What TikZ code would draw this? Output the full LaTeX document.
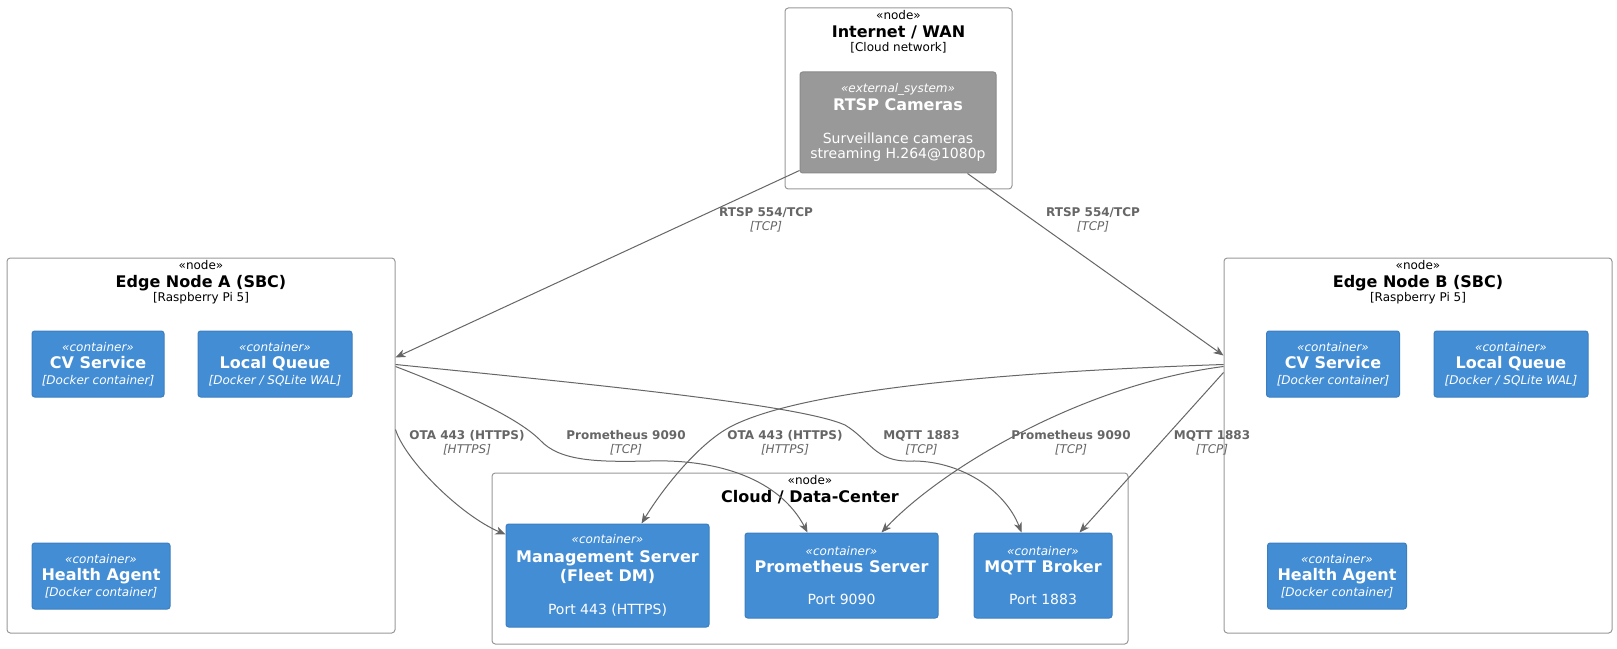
\documentclass[tikz,border=0pt]{standalone}
\usepackage{fontspec}
\setmainfont{DejaVu Sans}
\usetikzlibrary{arrows.meta,calc}

\definecolor{c4blue}{HTML}{438DD5}
\definecolor{c4blueline}{HTML}{3C7FC0}
\definecolor{extgray}{HTML}{999999}
\definecolor{extline}{HTML}{8A8A8A}
\definecolor{nodeline}{HTML}{999999}
\definecolor{relgray}{HTML}{666666}
\newcommand{\px}{0.75pt}

\tikzset{
  depnode/.style={draw=nodeline, line width=0.75pt, rounded corners=2.5pt, inner sep=0pt},
  deptitle/.style={anchor=north, align=center, inner sep=0pt, font=\fontsize{9}{12}\selectfont},
  container/.style={draw=c4blueline, fill=c4blue, line width=0.75pt, rounded corners=2pt,
    text=white, align=center, inner sep=0pt, font=\fontsize{9}{11.7}\selectfont},
  extsystem/.style={container, draw=extline, fill=extgray},
  rel/.style={draw=relgray, line width=0.75pt, -{Stealth[length=7.5pt,width=6pt,inset=2.2pt]}},
  rellabel/.style={text=relgray, align=center, inner sep=0pt, font=\fontsize{9}{10.5}\selectfont},
}

\begin{document}
\begin{tikzpicture}[x=\px, y=-\px]
  % Canvas
    \path[use as bounding box, fill=white] (0,0) rectangle (1617,649);

  % Deployment nodes
    \node[depnode, minimum width=227*\px, minimum height=181*\px] (inet) at (898.5,98.5) {};
    \node[depnode, minimum width=388*\px, minimum height=375*\px] (edgeA) at (201,445.5) {};
    \node[depnode, minimum width=388*\px, minimum height=375*\px] (edgeB) at (1418,445.5) {};
    \node[depnode, minimum width=636*\px, minimum height=171*\px] (cloud) at (810,558.5) {};

    \node[deptitle] (inetTitle) at ($(inet.north)+(0,3)$)
      {«node»\\[1pt]{\bfseries\fontsize{12}{12}\selectfont Internet / WAN}\\[-1pt]{[Cloud network]}};
    \node[deptitle] (edgeATitle) at ($(edgeA.north)+(0,3)$)
      {«node»\\[1pt]{\bfseries\fontsize{12}{12}\selectfont Edge Node A (SBC)}\\[-1pt]{[Raspberry Pi 5]}};
    \node[deptitle] (edgeBTitle) at ($(edgeB.north)+(0,3)$)
      {«node»\\[1pt]{\bfseries\fontsize{12}{12}\selectfont Edge Node B (SBC)}\\[-1pt]{[Raspberry Pi 5]}};
    \node[deptitle] (cloudTitle) at ($(cloud.north)+(0,3)$)
      {«node»\\[1pt]{\bfseries\fontsize{12}{12}\selectfont Cloud / Data-Center}};

  % External system
    \node[extsystem, minimum width=196*\px, minimum height=101*\px] (cams) at (898,122.5)
      {\textit{«external\_system»}\\[2pt]{\bfseries\fontsize{12}{12}\selectfont RTSP Cameras}\\[13pt]
       {\fontsize{10.5}{12}\selectfont Surveillance cameras}\\[-0.45pt]{\fontsize{10.5}{12}\selectfont streaming H.264@1080p}};

  % Edge node A containers
    \node[container, minimum width=132*\px, minimum height=66*\px] (cvA) at (98,364)
      {\textit{«container»}\\[1.4pt]{\bfseries\fontsize{12}{12}\selectfont CV Service}\\\textit{[Docker container]}};
    \node[container, minimum width=154*\px, minimum height=66*\px] (queueA) at (275,364)
      {\textit{«container»}\\[1.4pt]{\bfseries\fontsize{12}{12}\selectfont Local Queue}\\\textit{[Docker / SQLite WAL]}};
    \node[container, minimum width=138*\px, minimum height=66*\px] (healthA) at (101,576)
      {\textit{«container»}\\[1.4pt]{\bfseries\fontsize{12}{12}\selectfont Health Agent}\\\textit{[Docker container]}};

  % Edge node B containers
    \node[container, minimum width=133*\px, minimum height=66*\px] (cvB) at (1333,364)
      {\textit{«container»}\\[1.4pt]{\bfseries\fontsize{12}{12}\selectfont CV Service}\\\textit{[Docker container]}};
    \node[container, minimum width=154*\px, minimum height=66*\px] (queueB) at (1511,364)
      {\textit{«container»}\\[1.4pt]{\bfseries\fontsize{12}{12}\selectfont Local Queue}\\\textit{[Docker / SQLite WAL]}};
    \node[container, minimum width=139*\px, minimum height=66*\px] (healthB) at (1337,576)
      {\textit{«container»}\\[1.4pt]{\bfseries\fontsize{12}{12}\selectfont Health Agent}\\\textit{[Docker container]}};

  % Cloud containers
    \node[container, minimum width=203*\px, minimum height=103*\px] (mgmt) at (607.5,575.5)
      {\textit{«container»}\\[2pt]{\bfseries\fontsize{12}{12}\selectfont Management Server}\\[1.8pt]
       {\bfseries\fontsize{12}{12}\selectfont (Fleet DM)}\\[13pt]{\fontsize{10.5}{12}\selectfont Port 443 (HTTPS)}};
    \node[container, minimum width=193*\px, minimum height=85*\px] (prom) at (841.5,575.5)
      {\textit{«container»}\\[1.4pt]{\bfseries\fontsize{12}{12}\selectfont Prometheus Server}\\[12.5pt]
       {\fontsize{10.5}{12}\selectfont Port 9090}};
    \node[container, minimum width=138*\px, minimum height=85*\px] (mqtt) at (1043,575.5)
      {\textit{«container»}\\[1.4pt]{\bfseries\fontsize{12}{12}\selectfont MQTT Broker}\\[12.5pt]
       {\fontsize{10.5}{12}\selectfont Port 1883}};

  % Relations: cameras to edge nodes
    \draw[rel] ($(cams.south west)+(0,-3)$) -- ($(edgeA.north east)+(0,100)$);
    \draw[rel] ($(cams.south west)+(168,0)$) -- ($(edgeB.north west)+(0,98)$);

  % Relations: edge node A to cloud
    \draw[rel] ($(edgeA.north east)+(0,172)$) .. controls (405,460) and (460,515) .. ($(mgmt.north west)+(0,11)$);
    \draw[rel] ($(edgeA.north east)+(0,109)$) .. controls (470,395) and (520,420) .. (540,440)
      .. controls (560,462) and (600,462) .. (650,461)
      .. controls (720,459) and (780,480) .. ($(prom.north west)+(63,0)$);
    \draw[rel] ($(edgeA.north east)+(0,107)$) .. controls (600,385) and (800,405) .. (845,425)
      .. controls (870,440) and (875,462) .. (910,461)
      .. controls (960,460) and (1005,490) .. ($(mqtt.north west)+(48,0)$);

  % Relations: edge node B to cloud
    \draw[rel] ($(edgeB.north west)+(0,107)$) .. controls (1000,372) and (800,390) .. (730,427)
      .. controls (700,443) and (665,485) .. ($(mgmt.north west)+(136,0)$);
    \draw[rel] ($(edgeB.north west)+(0,109)$) .. controls (1080,385) and (940,470) .. ($(prom.north west)+(137,0)$);
    \draw[rel] ($(edgeB.north west)+(0,115)$) -- ($(mqtt.north west)+(106,0)$);

  % Relation labels
    \node[rellabel] (lblRtspA) at (766,220) {\textbf{RTSP 554/TCP}\\\textit{[TCP]}};
    \node[rellabel] (lblRtspB) at (1093,220) {\textbf{RTSP 554/TCP}\\\textit{[TCP]}};
    \node[rellabel] (lblOtaA) at (467,442.5) {\textbf{OTA 443 (HTTPS)}\\\textit{[HTTPS]}};
    \node[rellabel] (lblPromA) at (626,442.5) {\textbf{Prometheus 9090}\\\textit{[TCP]}};
    \node[rellabel] (lblOtaB) at (785,442.5) {\textbf{OTA 443 (HTTPS)}\\\textit{[HTTPS]}};
    \node[rellabel] (lblMqttA) at (921.5,442.5) {\textbf{MQTT 1883}\\\textit{[TCP]}};
    \node[rellabel] (lblPromB) at (1071,442.5) {\textbf{Prometheus 9090}\\\textit{[TCP]}};
    \node[rellabel] (lblMqttB) at (1212,442.5) {\textbf{MQTT 1883}\\\textit{[TCP]}};

\end{tikzpicture}
\end{document}
